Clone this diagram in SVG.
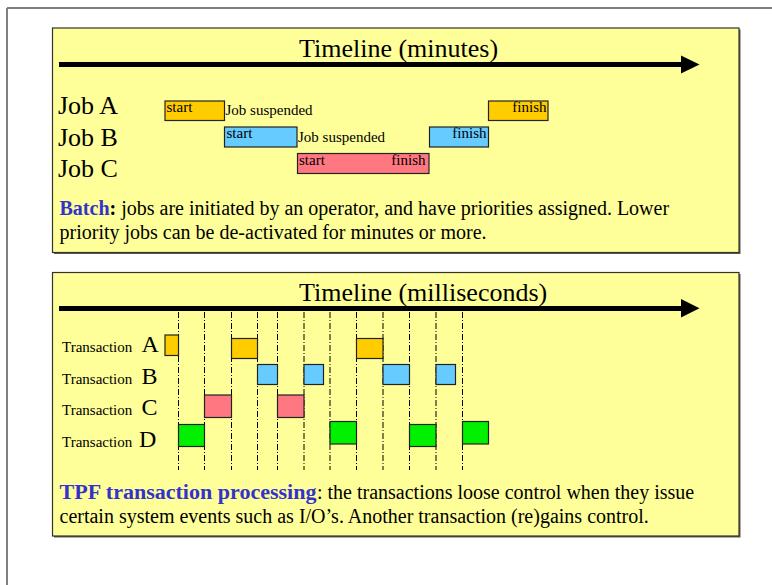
<svg xmlns="http://www.w3.org/2000/svg" width="772" height="585" viewBox="0 0 772 585">
<style>
  text { font-family: "Liberation Serif", "Times New Roman", serif; fill: #000; }
  .panel { fill: #FFFF99; stroke: #33332a; stroke-width: 1.2; }
  .shadow { fill: #5a5a50; }
  .title { font-size: 26px; }
  .job { font-size: 26px; }
  .small { font-size: 15px; }
  .trans { font-size: 15px; }
  .letter { font-size: 24px; }
  .desc { font-size: 20px; }
  .hl { fill: #3333CC; font-weight: bold; }
  .bold { font-weight: bold; }
  .box { stroke: #222; stroke-width: 1.2; }
  .a { fill: #FFCC00; }
  .b { fill: #66CCFF; }
  .c { fill: #FF7780; }
  .d { fill: #00F000; }
  .grid { stroke: #000; stroke-width: 1; stroke-dasharray: 6 2 1 2; fill: none; }
  .axis { stroke: #000; stroke-width: 5; }
</style>
<line x1="7" y1="8" x2="772" y2="8" stroke="#000" stroke-width="1.2"/>
<line x1="7" y1="8" x2="7" y2="585" stroke="#808080" stroke-width="2"/>

<g id="panel-batch">
  <rect class="shadow" x="54" y="29.5" width="686.5" height="224.5"/>
  <rect class="panel" x="52.5" y="28" width="686.5" height="224.5"/>
  <text class="title" x="299" y="57">Timeline (minutes)</text>
  <text class="job" x="58" y="114">Job A</text>
  <text class="job" x="58" y="145.5">Job B</text>
  <text class="job" x="58" y="176.5">Job C</text>
  <text class="desc" x="59.5" y="214.5"><tspan class="hl">Batch</tspan><tspan class="bold">:</tspan> jobs are initiated by an operator, and have priorities assigned. Lower</text>
  <text class="desc" x="59.5" y="238.5">priority jobs can be de-activated for minutes or more.</text>
</g>
<g id="jobA-start"><rect class="box a" x="165" y="101" width="59.5" height="19.5"/><text class="small" x="166.5" y="112">start</text></g>
<text class="small" x="225.5" y="115">Job suspended</text>
<g id="jobA-finish"><rect class="box a" x="488.5" y="101" width="59.5" height="19.5"/><text class="small" x="546.5" y="112" text-anchor="end">finish</text></g>
<g id="jobB-start"><rect class="box b" x="224.5" y="127" width="72.5" height="20"/><text class="small" x="226.5" y="138">start</text></g>
<text class="small" x="298" y="141.5">Job suspended</text>
<g id="jobB-finish"><rect class="box b" x="429.5" y="127" width="59" height="20"/><text class="small" x="486.5" y="138" text-anchor="end">finish</text></g>
<g id="jobC"><rect class="box c" x="297.5" y="153.5" width="131.5" height="20"/><text class="small" x="299" y="165">start</text><text class="small" x="425.5" y="165" text-anchor="end">finish</text></g>

<g id="panel-tpf">
  <rect class="shadow" x="54" y="274" width="686.5" height="263.5"/>
  <rect class="panel" x="52.5" y="272.5" width="686.5" height="263.5"/>
  <text class="title" x="299" y="301">Timeline (milliseconds)</text>
  <text class="trans" x="62" y="352">Transaction</text><text class="letter" x="141.5" y="352">A</text>
  <text class="trans" x="62" y="383.5">Transaction</text><text class="letter" x="141.5" y="383.5">B</text>
  <text class="trans" x="62" y="415">Transaction</text><text class="letter" x="141.5" y="415">C</text>
  <text class="trans" x="62" y="446.5">Transaction</text><text class="letter" x="139" y="446.5">D</text>
  <text class="desc hl" x="59.5" y="498.5" textLength="257" lengthAdjust="spacingAndGlyphs">TPF transaction processing</text>
  <text class="desc" x="317" y="498.5">: the transactions loose control when they issue</text>
  <text class="desc" x="59.5" y="523">certain system events such as I/O’s. Another transaction (re)gains control.</text>
</g>

<g id="connectors">
  <line class="axis" x1="59" y1="64.5" x2="682" y2="64.5"/>
  <polygon points="681,55.5 699.5,64.5 681,73.5" fill="#000"/>
  <line class="axis" x1="59" y1="308.5" x2="682" y2="308.5"/>
  <polygon points="681,299 699.5,308.3 681,317.5" fill="#000"/>
  <g class="grid">
    <line x1="178.5" y1="312" x2="178.5" y2="470"/>
    <line x1="204.5" y1="312" x2="204.5" y2="470"/>
    <line x1="231.5" y1="312" x2="231.5" y2="470"/>
    <line x1="257.5" y1="312" x2="257.5" y2="470"/>
    <line x1="277.5" y1="312" x2="277.5" y2="470"/>
    <line x1="304" y1="312" x2="304" y2="470"/>
    <line x1="330" y1="312" x2="330" y2="470"/>
    <line x1="356.5" y1="312" x2="356.5" y2="470"/>
    <line x1="383" y1="312" x2="383" y2="470"/>
    <line x1="409.5" y1="312" x2="409.5" y2="470"/>
    <line x1="436" y1="312" x2="436" y2="470"/>
    <line x1="462.5" y1="312" x2="462.5" y2="470"/>
  </g>
</g>

<g id="transA">
  <rect class="box a" x="165" y="335" width="13.5" height="20.5"/>
  <rect class="box a" x="231.5" y="338.5" width="26" height="20"/>
  <rect class="box a" x="356.5" y="338.5" width="26.5" height="20"/>
</g>
<g id="transB">
  <rect class="box b" x="257.5" y="364.5" width="20" height="20"/>
  <rect class="box b" x="304" y="364.5" width="19.5" height="20"/>
  <rect class="box b" x="383" y="364.5" width="26.5" height="20"/>
  <rect class="box b" x="436" y="364.5" width="19.5" height="20"/>
</g>
<g id="transC">
  <rect class="box c" x="204.5" y="395" width="27" height="22.5"/>
  <rect class="box c" x="277.5" y="395" width="26.5" height="22.5"/>
</g>
<g id="transD">
  <rect class="box d" x="178.5" y="424.5" width="26" height="22"/>
  <rect class="box d" x="330" y="421.5" width="26.5" height="22.5"/>
  <rect class="box d" x="409.5" y="424.5" width="26.5" height="22"/>
  <rect class="box d" x="462.5" y="421.5" width="26" height="22.5"/>
</g>
</svg>
